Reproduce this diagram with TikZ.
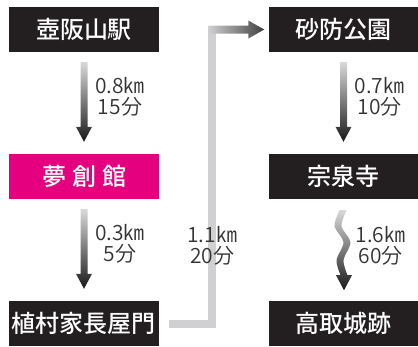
\documentclass[tikz,border=0pt]{standalone}
\usepackage{fontspec}
\setmainfont{Noto Sans CJK JP}[BoldFont={Noto Sans CJK JP Medium}]
\newfontfamily\thinfont{Noto Sans CJK JP DemiLight}
\usetikzlibrary{calc}
\definecolor{boxblack}{HTML}{231F20}
\definecolor{boxpink}{HTML}{E4007F}
\definecolor{linegray}{HTML}{D0D0D2}
\definecolor{textgray}{HTML}{333333}
\tikzset{
  spot/.style={fill=boxblack, text=white, minimum width=150pt, minimum height=45pt, inner sep=0pt, font=\fontsize{24}{28}\selectfont\bfseries},
  dist/.style={text=textgray, align=center, inner sep=0pt, font=\thinfont\fontsize{21}{21}\selectfont},
  gradarrow/.style={top color=black!15, bottom color=black!90},
  connector/.style={draw=linegray, line width=8pt},
}
\begin{document}
\begin{tikzpicture}[x=1pt,y=-1pt]
\useasboundingbox (0,0) rectangle (418,346);
\node[spot] (a1) at (84,29.5) {壺阪山駅};
\node[spot, fill=boxpink] (a2) at (84,176.5) {夢\hspace{6pt}創\hspace{6pt}館};
\node[spot] (a3) at (84,323.5) {植村家長屋門};
\node[spot] (b1) at (343.5,29.5) {砂防公園};
\node[spot] (b2) at (343.5,176.5) {宗泉寺};
\node[spot] (b3) at (343.5,323.5) {高取城跡};
% straight walking arrows
\foreach \s/\t in {a1/a2, a2/a3, b1/b2}
  \shade[gradarrow] ($(\s.south)+(-3.5,10)$) -- ($(\t.north)+(-3.5,-27)$) -- ($(\t.north)+(-8,-27)$) -- ($(\t.north)+(0,-12)$)
    -- ($(\t.north)+(8,-27)$) -- ($(\t.north)+(3.5,-27)$) -- ($(\s.south)+(3.5,10)$) -- cycle;
% mountain path
\begin{scope}[shift={(b2.south)}]
\shade[gradarrow] plot[smooth] coordinates {(-4,11) (-9,27) (0,43) (-7,61) (-3,76)} -- (-7.5,76) -- (0.5,91) -- (8.5,76)
  -- plot[smooth] coordinates {(4,76) (0,61) (7,43) (-2,27) (3,11)} -- cycle;
\end{scope}
% bus connection
\coordinate (bend) at ($(a3.east)+(53,0)$);
\coordinate (corner) at (bend |- b1.west);
\draw[connector] ($(a3.east)+(10,0)$) -- (bend) -- (corner);
\shade[left color=linegray, right color=black!75] ($(corner)+(-4,-4)$) -- ($(b1.west)+(-20,-4)$) -- ($(b1.west)+(-20,-9)$)
  -- ($(b1.west)+(-4,0)$) -- ($(b1.west)+(-20,9)$) -- ($(b1.west)+(-20,4)$) -- ($(corner)+(-4,4)$) -- cycle;
% distances
\node[dist] (d1) at ($(a1.south)!0.5!(a2.north)+(36,-6)$) {0.8㎞\\15分};
\node[dist] (d2) at ($(a2.south)!0.5!(a3.north)+(36,-6)$) {0.3㎞\\5分};
\node[dist] (d3) at ($(b1.south)!0.5!(b2.north)+(36,-6)$) {0.7㎞\\10分};
\node[dist] (d4) at ($(b2.south)!0.5!(b3.north)+(37,-4)$) {1.6㎞\\60分};
\node[dist] (d5) at ($(bend)+(0,-78)$) {1.1㎞\\20分};
\end{tikzpicture}
\end{document}
